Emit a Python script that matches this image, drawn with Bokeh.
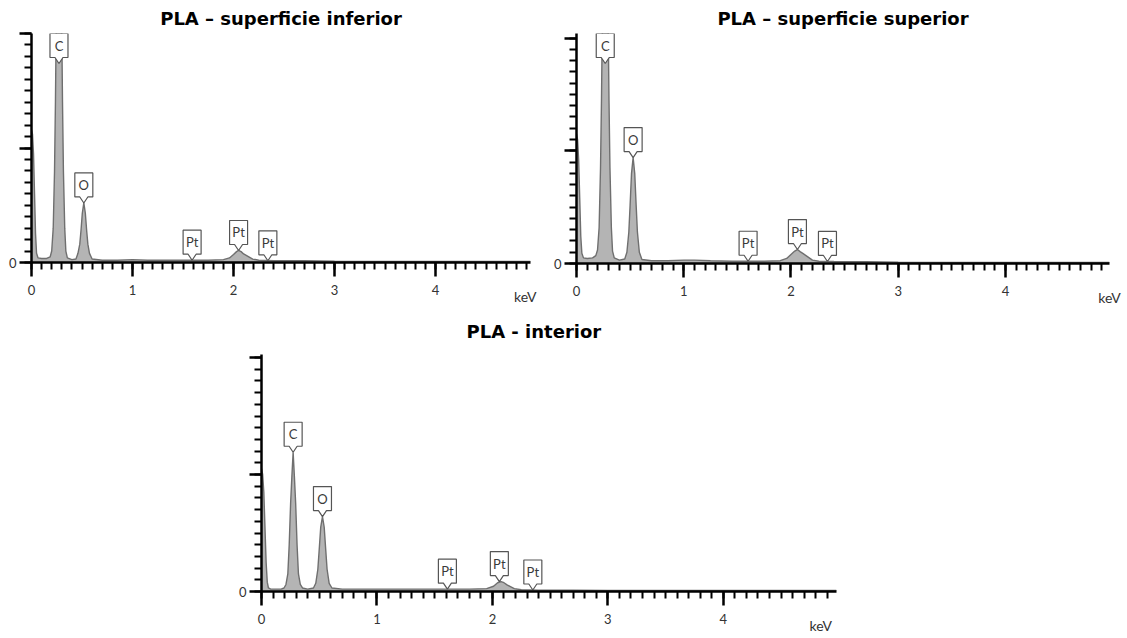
from bokeh.plotting import figure
from bokeh.layouts import column, row, Spacer
from bokeh.models import FixedTicker
from bokeh.embed import file_html
from bokeh.resources import INLINE
from bokeh.core.properties import value

# ---------------- data ----------------
TITLES = ["PLA – superficie inferior", "PLA – superficie superior", "PLA - interior"]
X_UNIT = "keV"
X_TICKS = [0, 1, 2, 3, 4]
X_TICK_LABELS = ["0", "1", "2", "3", "4"]
Y_TICKS = [0, 1, 2]
Y_TICK_LABELS = ["0", "", ""]

# PLA – superficie inferior
energy_inf = [0.000, 0.010, 0.020, 0.030, 0.040, 0.050, 0.065, 0.100, 0.150, 0.185,
              0.200, 0.215, 0.228, 0.237, 0.245, 0.255, 0.272, 0.289, 0.299, 0.307,
              0.316, 0.329, 0.340, 0.355, 0.400, 0.440, 0.460, 0.478, 0.490, 0.503,
              0.518, 0.533, 0.546, 0.558, 0.574, 0.600, 0.700, 0.850, 1.000, 1.150,
              1.300, 1.450, 1.600, 1.750, 1.900, 1.960, 2.000, 2.030, 2.050, 2.075,
              2.100, 2.130, 2.160, 2.190, 2.250, 2.400, 2.700, 3.000, 3.500, 4.000,
              4.500, 4.940]
counts_inf = [1.16, 1.12, 0.95, 0.60, 0.25, 0.08, 0.04, 0.035, 0.035, 0.05,
              0.10, 0.30, 0.80, 1.40, 2.10, 3.50, 4.20, 3.50, 2.10, 1.40,
              0.80, 0.30, 0.10, 0.04, 0.025, 0.03, 0.08, 0.16, 0.28, 0.43,
              0.52, 0.43, 0.28, 0.16, 0.08, 0.03, 0.02, 0.02, 0.025, 0.02,
              0.02, 0.02, 0.02, 0.02, 0.025, 0.04, 0.07, 0.095, 0.105, 0.095,
              0.075, 0.06, 0.045, 0.03, 0.02, 0.015, 0.015, 0.012, 0.01, 0.01,
              0.01, 0.01]

# PLA – superficie superior
energy_sup = [0.000, 0.010, 0.020, 0.030, 0.040, 0.050, 0.065, 0.100, 0.150, 0.180,
              0.196, 0.211, 0.224, 0.233, 0.241, 0.251, 0.268, 0.285, 0.295, 0.303,
              0.312, 0.325, 0.336, 0.352, 0.400, 0.450, 0.470, 0.488, 0.500, 0.513,
              0.528, 0.543, 0.556, 0.568, 0.586, 0.610, 0.700, 0.850, 1.000, 1.100,
              1.250, 1.450, 1.600, 1.750, 1.900, 1.960, 2.000, 2.035, 2.060, 2.085,
              2.110, 2.140, 2.170, 2.200, 2.260, 2.400, 2.700, 3.000, 3.500, 4.000,
              4.500, 4.970]
counts_sup = [1.15, 1.10, 0.92, 0.58, 0.24, 0.09, 0.05, 0.044, 0.05, 0.07,
              0.12, 0.32, 0.85, 1.45, 2.15, 3.60, 4.30, 3.60, 2.15, 1.45,
              0.85, 0.32, 0.11, 0.05, 0.03, 0.04, 0.10, 0.28, 0.52, 0.80,
              0.94, 0.80, 0.52, 0.28, 0.10, 0.035, 0.025, 0.025, 0.03, 0.03,
              0.025, 0.02, 0.02, 0.02, 0.025, 0.045, 0.08, 0.11, 0.124, 0.105,
              0.09, 0.07, 0.05, 0.03, 0.02, 0.018, 0.015, 0.012, 0.01, 0.01,
              0.01, 0.01]

# PLA - interior
energy_int = [0.000, 0.010, 0.020, 0.030, 0.040, 0.050, 0.060, 0.080, 0.120, 0.170,
              0.195, 0.212, 0.228, 0.240, 0.252, 0.263, 0.274, 0.285, 0.296, 0.308,
              0.320, 0.336, 0.355, 0.400, 0.450, 0.470, 0.488, 0.500, 0.513, 0.528,
              0.543, 0.556, 0.568, 0.586, 0.610, 0.700, 0.850, 1.000, 1.200, 1.400,
              1.600, 1.800, 1.950, 2.010, 2.045, 2.075, 2.100, 2.130, 2.160, 2.190,
              2.250, 2.400, 2.700, 3.000, 3.500, 4.000, 4.500, 4.980]
counts_int = [1.05, 1.00, 0.85, 0.55, 0.25, 0.08, 0.03, 0.02, 0.02, 0.02,
              0.03, 0.06, 0.15, 0.40, 0.75, 0.98, 1.19, 0.98, 0.75, 0.40,
              0.15, 0.06, 0.03, 0.02, 0.03, 0.07, 0.19, 0.36, 0.55, 0.64,
              0.55, 0.36, 0.19, 0.07, 0.03, 0.02, 0.02, 0.02, 0.02, 0.02,
              0.02, 0.02, 0.025, 0.045, 0.075, 0.085, 0.075, 0.055, 0.04, 0.025,
              0.015, 0.012, 0.012, 0.01, 0.01, 0.01, 0.01, 0.01]

# peak markers
peak_names = ["C", "O", "Pt", "Pt", "Pt"]
peak_energy_inf = [0.272, 0.518, 1.59, 2.05, 2.34]
peak_height_inf = [4.20, 0.52, 0.02, 0.105, 0.015]
peak_energy_sup = [0.268, 0.528, 1.60, 2.06, 2.34]
peak_height_sup = [4.30, 0.94, 0.02, 0.124, 0.018]
peak_energy_int = [0.274, 0.528, 1.61, 2.06, 2.35]
peak_height_int = [1.19, 0.64, 0.02, 0.085, 0.013]

# ---------------- style ----------------
FILL = "#b4b4b4"
EDGE = "#6f6f6f"
BOX_EDGE = "#555555"
TXT = "#3a3a3a"
TITLE_FONT = "DejaVu Sans"
FONT = "Lato"
EM_SPACE = "\u2003"

# callout geometry (pixels)
BOX_HALF_W = 9
BOX_H = 24
NOTCH_H = 6
NOTCH_HALF = 4


def make_panel(title, energy, counts, p_e, p_h, frame_w, frame_h, x_end, y_end,
               borders, title_standoff, title_offset, unit_pad):
    bl, br, bt, bb = borders
    p = figure(frame_width=frame_w, frame_height=frame_h,
               x_range=(0, x_end), y_range=(0, y_end),
               output_backend="svg", toolbar_location=None,
               min_border_left=bl, min_border_right=br,
               min_border_top=bt, min_border_bottom=bb)
    p.outline_line_color = None
    p.grid.visible = False
    p.background_fill_color = "white"
    p.border_fill_color = "white"

    # title
    p.title.text = title
    if title_offset is None:
        p.title.align = "center"
    else:
        p.title.align = "left"
        p.title.offset = title_offset
    p.title.vertical_align = "middle"
    p.title.standoff = title_standoff
    p.title.text_font = TITLE_FONT
    p.title.text_font_style = "bold"
    p.title.text_font_size = "18px"
    p.title.text_color = "black"

    p.varea(x=energy, y1=0, y2=counts, fill_color=FILL, fill_alpha=1.0)
    p.line(x=energy, y=counts, line_color=EDGE, line_width=1.4)

    # callouts
    pxu = frame_w / x_end
    pyu = frame_h / y_end
    cap = y_end - (NOTCH_H + BOX_H) / pyu
    xs, ys, tx, ty = [], [], [], []
    for e, h in zip(p_e, p_h):
        t = min(h, cap)
        shape = [(0, 0), (NOTCH_HALF, NOTCH_H), (BOX_HALF_W, NOTCH_H),
                 (BOX_HALF_W, NOTCH_H + BOX_H), (-BOX_HALF_W, NOTCH_H + BOX_H),
                 (-BOX_HALF_W, NOTCH_H), (-NOTCH_HALF, NOTCH_H)]
        xs.append([e + dx / pxu for dx, dy in shape])
        ys.append([t + dy / pyu for dx, dy in shape])
        tx.append(e)
        ty.append(t + (NOTCH_H + BOX_H / 2) / pyu)
    p.patches(xs=xs, ys=ys, fill_color="white", line_color=BOX_EDGE, line_width=1.2)
    p.text(x=tx, y=ty, text=peak_names, text_align="center", text_baseline="middle",
           text_font=value(FONT), text_font_size="13px", text_color=TXT)

    # axes
    minor_x = [round(0.1 * i, 1) for i in range(0, 50) if 0.1 * i <= x_end]
    p.xaxis.ticker = FixedTicker(ticks=X_TICKS, minor_ticks=minor_x)
    p.xaxis.major_label_overrides = {t: l for t, l in zip(X_TICKS, X_TICK_LABELS)}
    p.yaxis.ticker = FixedTicker(ticks=Y_TICKS, minor_ticks=[round(0.1 * i, 1) for i in range(0, 21)])
    p.yaxis.major_label_overrides = {t: l for t, l in zip(Y_TICKS, Y_TICK_LABELS)}
    for ax in (p.xaxis[0], p.yaxis[0]):
        ax.axis_line_color = "black"
        ax.axis_line_width = 2.5
        ax.major_tick_line_color = "black"
        ax.major_tick_line_width = 2.5
        ax.minor_tick_line_color = "black"
        ax.minor_tick_line_width = 2
        ax.major_tick_in = 0
        ax.minor_tick_in = 0
        ax.minor_tick_out = 7
        ax.major_label_text_font = FONT
        ax.major_label_text_font_size = "13px"
        ax.major_label_text_color = "#333333"
    p.xaxis.major_tick_out = 14
    p.xaxis.major_label_standoff = 8
    p.yaxis.major_tick_out = 12
    p.yaxis.major_label_standoff = 3

    xa = p.xaxis[0]
    xa.axis_label = X_UNIT + EM_SPACE * unit_pad
    xa.axis_label_text_font = FONT
    xa.axis_label_text_font_style = "normal"
    xa.axis_label_text_font_size = "14px"
    xa.axis_label_text_color = "#333333"
    xa.axis_label_standoff = -10
    xa.axis_label_align = "end"
    return p


p1 = make_panel(TITLES[0], energy_inf, counts_inf, peak_energy_inf, peak_height_inf,
                499, 229, 4.94, 2.0, (31, 20, 33, 45), 7, None, 1)
p2 = make_panel(TITLES[1], energy_sup, counts_sup, peak_energy_sup, peak_height_sup,
                533, 230, 4.97, 230 / 112.7, (24, 18, 33, 44), 7, None, 0)
p3 = make_panel(TITLES[2], energy_int, counts_int, peak_energy_int, peak_height_int,
                575, 237, 4.98, 237 / 117, (31, 40, 46, 46), 23, 205, 3)

layout = column(row(p1, p2), row(Spacer(width=230, height=10), p3))

open("out.html", "w").write(file_html(layout, INLINE))
